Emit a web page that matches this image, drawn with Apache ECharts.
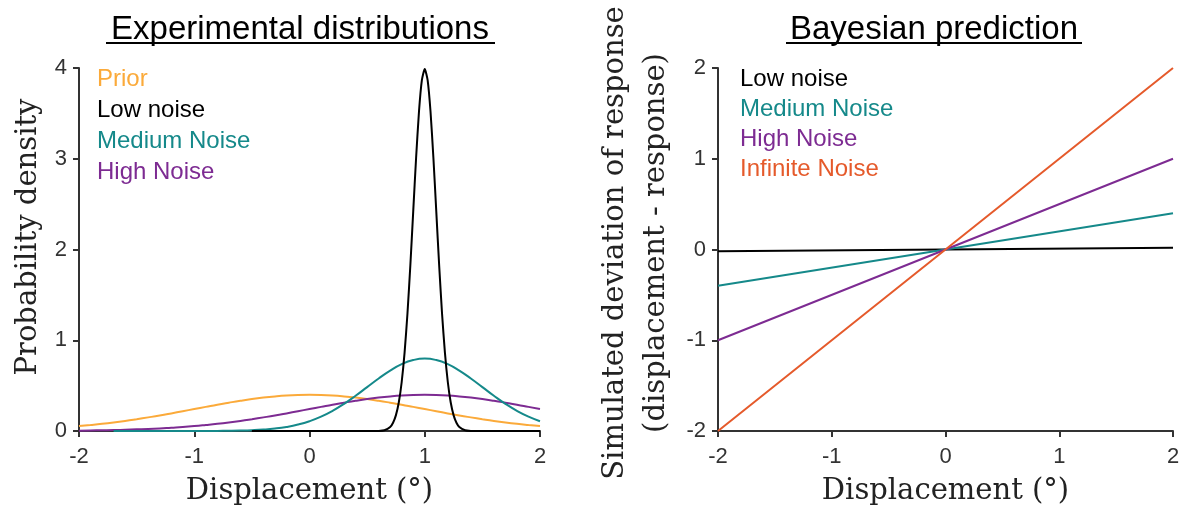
<!DOCTYPE html>
<html>
<head>
<meta charset="utf-8">
<script src="https://cdn.jsdelivr.net/npm/echarts@6/dist/echarts.min.js"></script>
<style>html,body{margin:0;padding:0;background:#fff}#c{width:1189px;height:512px}</style>
</head>
<body>
<div id="c"></div>
<script>
// ---- data ----
var xBroad = [-2,-1.9,-1.8,-1.7,-1.6,-1.5,-1.4,-1.3,-1.2,-1.1,-1,-0.9,-0.8,-0.7,-0.6,-0.5,-0.4,-0.3,-0.2,-0.1,0,0.1,0.2,0.3,0.4,0.5,0.6,0.7,0.8,0.9,1,1.1,1.2,1.3,1.4,1.5,1.6,1.7,1.8,1.9,2];
var priorDensity = [0.054,0.066,0.079,0.094,0.111,0.130,0.150,0.171,0.194,0.218,0.242,0.266,0.290,0.312,0.333,0.352,0.368,0.381,0.391,0.397,0.399,0.397,0.391,0.381,0.368,0.352,0.333,0.312,0.290,0.266,0.242,0.218,0.194,0.171,0.150,0.130,0.111,0.094,0.079,0.066,0.054];
var highDensity = [0.004,0.006,0.008,0.010,0.014,0.018,0.022,0.028,0.036,0.044,0.054,0.066,0.079,0.094,0.111,0.130,0.150,0.171,0.194,0.218,0.242,0.266,0.290,0.312,0.333,0.352,0.368,0.381,0.391,0.397,0.399,0.397,0.391,0.381,0.368,0.352,0.333,0.312,0.290,0.266,0.242];
var xMedium = [-1.7,-1.6,-1.5,-1.4,-1.3,-1.2,-1.1,-1,-0.9,-0.8,-0.7,-0.6,-0.5,-0.4,-0.3,-0.2,-0.1,0,0.1,0.2,0.3,0.4,0.5,0.6,0.7,0.8,0.9,1,1.1,1.2,1.3,1.4,1.5,1.6,1.7,1.8,1.9,2];
var mediumDensity = [0,0,0,0,0,0,0.0001,0.0003,0.0006,0.0012,0.0025,0.0048,0.0089,0.0158,0.0271,0.0448,0.0709,0.108,0.158,0.222,0.299,0.388,0.484,0.579,0.666,0.737,0.782,0.798,0.782,0.737,0.666,0.579,0.484,0.388,0.299,0.222,0.158,0.108];
var xNarrow = [-0.5,0.5,0.55,0.6,0.65,0.7,0.725,0.75,0.775,0.8,0.825,0.85,0.875,0.9,0.925,0.95,0.975,1,1.025,1.05,1.075,1.1,1.125,1.15,1.175,1.2,1.225,1.25,1.275,1.3,1.35,1.4,1.45,1.5,2];
var lowDensity = [0,0,0.0002,0.0013,0.0087,0.044,0.091,0.175,0.317,0.540,0.863,1.295,1.826,2.420,3.011,3.521,3.866,3.989,3.866,3.521,3.011,2.420,1.826,1.295,0.863,0.540,0.317,0.175,0.091,0.044,0.0087,0.0013,0.0002,0,0];

var xPred = [-2, 0, 2];
var lowDeviation = [-0.02, 0, 0.02];
var mediumDeviation = [-0.4, 0, 0.4];
var highDeviation = [-1, 0, 1];
var infiniteDeviation = [-2, 0, 2];

var xTicks = [-2, -1, 0, 1, 2];
var densityTicks = [0, 1, 2, 3, 4];
var deviationTicks = [-2, -1, 0, 1, 2];

// ---- styles ----
var C = {prior:'#FBAA3A', low:'#000000', medium:'#15898A', high:'#7D2B92', infinite:'#E55A2B'};
var SANS = 'Liberation Sans, Arial, sans-serif';
var SERIF = 'DejaVu Serif, serif';

function zip(xs, ys){ return xs.map(function(x,i){ return [x, ys[i]]; }); }

function valueAxis(min, max, ticks, extra){
  var a = {
    type:'value', min:min, max:max, interval:ticks[1]-ticks[0],
    axisLine:{show:true, onZero:false, lineStyle:{color:'#333', width:2}},
    axisTick:{show:true, inside:false, length:6, lineStyle:{color:'#333', width:2}},
    axisLabel:{fontSize:22, color:'#333', fontFamily:SANS, margin:12},
    splitLine:{show:false},
    nameLocation:'middle',
    nameTextStyle:{fontFamily:SERIF, fontSize:29, color:'#222'}
  };
  for (var k in extra) a[k] = extra[k];
  return a;
}

function line(name, data, color, xi, smooth){
  return {name:name, type:'line', xAxisIndex:xi, yAxisIndex:xi, data:data, symbol:'none',
    smooth:smooth, lineStyle:{color:color, width:2}, itemStyle:{color:color}, animation:false};
}

var chart = echarts.init(document.getElementById('c'));
chart.setOption({
  backgroundColor:'#fff',
  animation:false,
  title:[
    {text:'Experimental distributions', left:300, top:13, textAlign:'center', padding:0,
     textStyle:{fontFamily:SANS, fontSize:33, fontWeight:'normal', color:'#000'}},
    {text:'Bayesian prediction', left:934, top:13, textAlign:'center', padding:0,
     textStyle:{fontFamily:SANS, fontSize:33, fontWeight:'normal', color:'#000'}}
  ],
  graphic:[
    {type:'line', shape:{x1:106,y1:43,x2:495,y2:43}, style:{stroke:'#000', lineWidth:2}},
    {type:'line', shape:{x1:786,y1:43,x2:1082,y2:43}, style:{stroke:'#000', lineWidth:2}}
  ],
  legend:[
    {orient:'vertical', left:87, top:62, icon:'none', itemWidth:0, itemHeight:10, itemGap:7, selectedMode:false,
     textStyle:{fontSize:24, fontFamily:SANS},
     data:[{name:'Prior', textStyle:{color:C.prior}},{name:'Low noise', textStyle:{color:C.low}},
           {name:'Medium Noise', textStyle:{color:C.medium}},{name:'High Noise', textStyle:{color:C.high}}]},
    {orient:'vertical', left:730, top:62, icon:'none', itemWidth:0, itemHeight:10, itemGap:6, selectedMode:false,
     textStyle:{fontSize:24, fontFamily:SANS},
     data:[{name:'Low noise', textStyle:{color:C.low}},{name:'Medium Noise', textStyle:{color:C.medium}},
           {name:'High Noise', textStyle:{color:C.high}},{name:'Infinite Noise', textStyle:{color:C.infinite}}]}
  ],
  grid:[
    {left:79, top:68, width:461, height:363},
    {left:718, top:68, width:455, height:363}
  ],
  xAxis:[
    valueAxis(xTicks[0], xTicks[xTicks.length-1], xTicks, {gridIndex:0, name:'Displacement (°)', nameGap:46,
      axisLabel:{fontSize:22, color:'#333', fontFamily:SANS, margin:15}}),
    valueAxis(xTicks[0], xTicks[xTicks.length-1], xTicks, {gridIndex:1, name:'Displacement (°)', nameGap:46,
      axisLabel:{fontSize:22, color:'#333', fontFamily:SANS, margin:15}})
  ],
  yAxis:[
    valueAxis(densityTicks[0], densityTicks[densityTicks.length-1], densityTicks, {gridIndex:0, name:'Probability density', nameGap:36, nameRotate:90,
      nameTextStyle:{fontFamily:SERIF, fontSize:29, color:'#222', padding:[0,0,0,25]}}),
    valueAxis(deviationTicks[0], deviationTicks[deviationTicks.length-1], deviationTicks, {gridIndex:1,
      name:'Simulated deviation of response\n(displacement - response)', nameGap:41, nameRotate:90,
      nameTextStyle:{fontFamily:SERIF, fontSize:29, color:'#222', lineHeight:41, padding:[0,0,0,13]}})
  ],
  series:[
    line('Prior', zip(xBroad, priorDensity), C.prior, 0, true),
    line('High Noise', zip(xBroad, highDensity), C.high, 0, true),
    line('Medium Noise', zip(xMedium, mediumDensity), C.medium, 0, true),
    line('Low noise', zip(xNarrow, lowDensity), C.low, 0, 0.2),
    line('Low noise', zip(xPred, lowDeviation), C.low, 1, false),
    line('Medium Noise', zip(xPred, mediumDeviation), C.medium, 1, false),
    line('High Noise', zip(xPred, highDeviation), C.high, 1, false),
    line('Infinite Noise', zip(xPred, infiniteDeviation), C.infinite, 1, false)
  ]
});
</script>
</body>
</html>
